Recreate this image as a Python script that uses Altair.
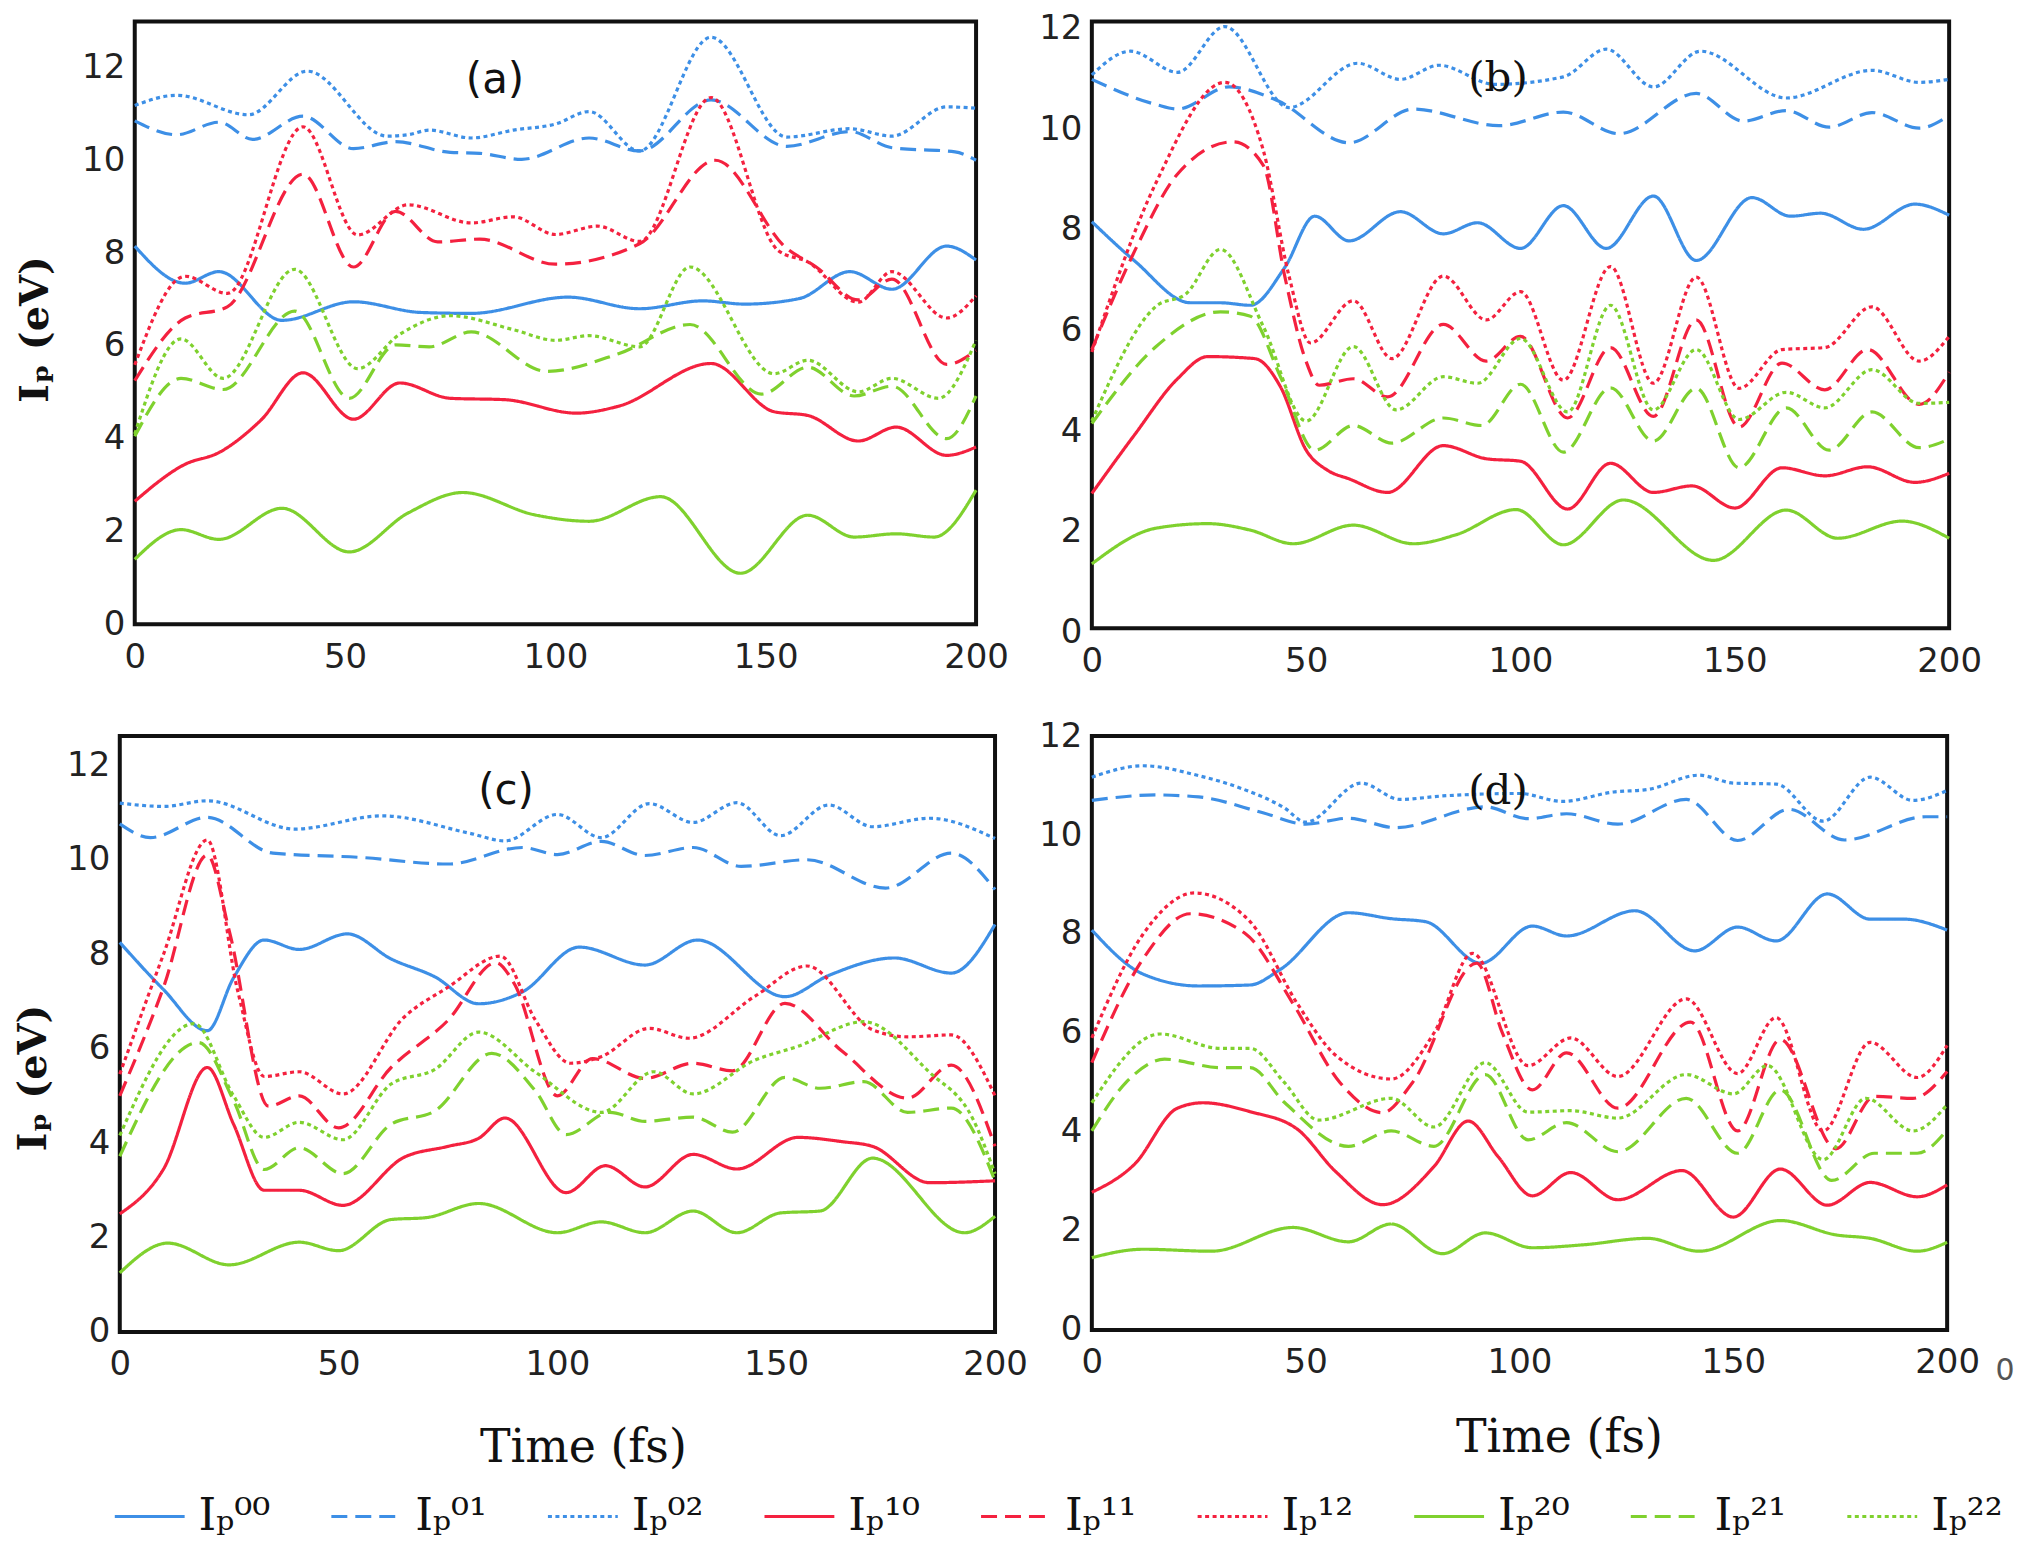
import altair as alt
import pandas as pd

# ---------------- series meta ----------------
LABELS = ["Iₚ⁰⁰", "Iₚ⁰¹", "Iₚ⁰²", "Iₚ¹⁰", "Iₚ¹¹", "Iₚ¹²", "Iₚ²⁰", "Iₚ²¹", "Iₚ²²"]
COLORS = ["#3d8fe6", "#3d8fe6", "#3d8fe6",
          "#f4213f", "#f4213f", "#f4213f",
          "#7fd12e", "#7fd12e", "#7fd12e"]
DASHES = [[1, 0], [16, 8], [4, 3.5]] * 3
WIDTHS = [3.2, 3.2, 3.2, 4.0, 4.0, 4.0, 3.0, 3.0, 3.0]
X_TICKS = [0, 50, 100, 150, 200]
Y_TICKS = [0, 2, 4, 6, 8, 10, 12]

# ---------------- panel (a) ----------------
a_00 = [(0, 8.15), (12, 7.35), (20, 7.6), (35, 6.55), (52, 6.95), (68, 6.72), (80, 6.7), (103, 7.05), (120, 6.8), (135, 6.97), (145, 6.9), (158, 7.02), (170, 7.6), (180, 7.22), (193, 8.15), (200, 7.85)]
a_01 = [(0, 10.85), (10, 10.55), (20, 10.82), (28, 10.45), (40, 10.95), (52, 10.25), (62, 10.4), (75, 10.17), (82, 10.15), (92, 10.02), (108, 10.48), (120, 10.2), (137, 11.3), (155, 10.3), (170, 10.62), (180, 10.27), (195, 10.18), (200, 10.0)]
a_02 = [(0, 11.18), (10, 11.4), (27, 10.98), (41, 11.92), (60, 10.52), (65, 10.55), (70, 10.65), (80, 10.48), (90, 10.65), (100, 10.78), (108, 11.05), (120, 10.2), (137, 12.65), (155, 10.5), (170, 10.68), (180, 10.52), (193, 11.15), (200, 11.12)]
a_10 = [(0, 2.65), (12, 3.45), (20, 3.7), (30, 4.4), (40, 5.42), (52, 4.42), (63, 5.2), (75, 4.87), (88, 4.84), (105, 4.55), (115, 4.7), (137, 5.62), (152, 4.58), (160, 4.5), (172, 3.95), (181, 4.25), (193, 3.64), (200, 3.82)]
a_11 = [(0, 5.25), (12, 6.6), (22, 6.84), (40, 9.7), (52, 7.7), (62, 8.9), (72, 8.24), (82, 8.3), (100, 7.76), (120, 8.2), (138, 10.0), (155, 8.1), (162, 7.7), (172, 6.99), (180, 7.44), (193, 5.6), (200, 5.9)]
a_12 = [(0, 5.59), (12, 7.5), (22, 7.13), (40, 10.72), (53, 8.39), (65, 9.04), (80, 8.65), (90, 8.78), (100, 8.4), (110, 8.58), (120, 8.25), (137, 11.35), (153, 8.05), (160, 7.81), (172, 6.94), (180, 7.6), (193, 6.6), (200, 7.08)]
a_20 = [(0, 1.4), (11, 2.04), (20, 1.83), (35, 2.5), (51, 1.56), (65, 2.4), (78, 2.84), (95, 2.36), (108, 2.22), (125, 2.75), (144, 1.1), (160, 2.35), (171, 1.88), (181, 1.95), (190, 1.88), (200, 2.89)]
a_21 = [(0, 4.05), (11, 5.3), (21, 5.06), (38, 6.75), (51, 4.87), (62, 6.02), (70, 5.98), (80, 6.3), (98, 5.45), (115, 5.83), (132, 6.46), (149, 4.96), (160, 5.54), (171, 4.92), (180, 5.13), (193, 4.0), (200, 4.92)]
a_22 = [(0, 4.1), (11, 6.15), (21, 5.3), (38, 7.65), (53, 5.51), (63, 6.25), (75, 6.65), (90, 6.35), (100, 6.12), (108, 6.22), (120, 5.98), (132, 7.7), (152, 5.4), (160, 5.69), (172, 5.01), (180, 5.3), (191, 4.87), (200, 6.12)]

# ---------------- panel (b) ----------------
b_00 = [(0, 8.08), (10, 7.3), (23, 6.47), (30, 6.47), (37, 6.42), (45, 7.17), (52, 8.19), (60, 7.7), (72, 8.28), (82, 7.84), (90, 8.06), (100, 7.55), (110, 8.4), (120, 7.55), (131, 8.59), (141, 7.31), (154, 8.56), (163, 8.19), (170, 8.25), (180, 7.93), (192, 8.43), (200, 8.21)]
b_01 = [(0, 10.91), (15, 10.41), (20, 10.32), (32, 10.76), (43, 10.5), (60, 9.65), (75, 10.32), (95, 9.99), (110, 10.26), (123, 9.83), (141, 10.63), (152, 10.08), (162, 10.29), (172, 9.96), (182, 10.25), (193, 9.94), (200, 10.19)]
b_02 = [(0, 11.0), (9, 11.47), (20, 11.05), (31, 11.96), (46, 10.35), (62, 11.23), (72, 10.91), (81, 11.19), (94, 10.81), (110, 10.96), (120, 11.51), (131, 10.76), (142, 11.47), (162, 10.54), (182, 11.09), (193, 10.85), (200, 10.91)]
b_10 = [(0, 2.68), (10, 3.85), (20, 4.96), (27, 5.4), (38, 5.36), (44, 4.8), (50, 3.54), (55, 3.14), (60, 2.97), (69, 2.7), (82, 3.63), (92, 3.37), (100, 3.32), (111, 2.37), (121, 3.28), (131, 2.7), (140, 2.83), (150, 2.39), (161, 3.19), (171, 3.03), (181, 3.21), (192, 2.9), (200, 3.08)]
b_11 = [(0, 5.54), (10, 7.5), (20, 9.03), (33, 9.67), (40, 9.2), (45, 7.0), (50, 5.3), (53, 4.83), (61, 4.96), (69, 4.6), (82, 6.04), (92, 5.31), (100, 5.8), (111, 4.18), (121, 5.58), (131, 4.21), (141, 6.13), (151, 4.0), (161, 5.27), (171, 4.74), (181, 5.54), (193, 4.45), (200, 5.09)]
b_12 = [(0, 5.49), (15, 8.86), (31, 10.85), (40, 9.5), (46, 7.0), (51, 5.67), (61, 6.51), (70, 5.36), (82, 7.0), (92, 6.13), (100, 6.69), (110, 4.93), (121, 7.19), (131, 4.87), (141, 6.98), (151, 4.77), (161, 5.54), (171, 5.58), (182, 6.39), (193, 5.31), (200, 5.8)]
b_20 = [(0, 1.28), (15, 1.99), (27, 2.08), (37, 1.95), (47, 1.68), (61, 2.05), (75, 1.68), (85, 1.86), (99, 2.36), (110, 1.66), (124, 2.55), (145, 1.35), (162, 2.35), (174, 1.79), (189, 2.13), (200, 1.79)]
b_21 = [(0, 4.07), (15, 5.6), (30, 6.29), (37, 6.2), (44, 5.0), (52, 3.54), (61, 4.03), (70, 3.68), (82, 4.18), (91, 4.03), (100, 4.85), (110, 3.5), (121, 4.78), (131, 3.72), (141, 4.77), (151, 3.19), (162, 4.38), (172, 3.54), (182, 4.3), (193, 3.59), (200, 3.76)]
b_22 = [(0, 4.12), (15, 6.4), (22, 6.65), (30, 7.53), (40, 6.0), (50, 4.12), (61, 5.6), (71, 4.34), (82, 5.0), (90, 4.87), (100, 5.76), (111, 4.3), (121, 6.42), (131, 4.34), (141, 5.54), (151, 4.15), (162, 4.69), (171, 4.38), (182, 5.14), (193, 4.47), (200, 4.49)]

# ---------------- panel (c) ----------------
c_00 = [(0, 8.25), (10, 7.25), (20, 6.38), (26, 7.5), (33, 8.3), (41, 8.1), (52, 8.43), (62, 7.9), (72, 7.52), (82, 6.95), (92, 7.2), (105, 8.15), (120, 7.77), (132, 8.3), (152, 7.1), (162, 7.55), (177, 7.92), (190, 7.6), (200, 8.63)]
c_01 = [(0, 10.76), (7, 10.47), (20, 10.9), (35, 10.14), (55, 10.05), (75, 9.91), (92, 10.26), (100, 10.11), (110, 10.39), (120, 10.09), (131, 10.26), (142, 9.86), (157, 10.0), (175, 9.4), (190, 10.14), (200, 9.37)]
c_02 = [(0, 11.2), (10, 11.13), (20, 11.25), (40, 10.65), (60, 10.93), (80, 10.56), (88, 10.4), (100, 10.96), (110, 10.47), (121, 11.19), (131, 10.79), (141, 11.21), (151, 10.51), (162, 11.16), (172, 10.7), (185, 10.88), (200, 10.45)]
c_10 = [(0, 2.5), (10, 3.45), (20, 5.6), (26, 4.4), (33, 3.0), (41, 3.0), (51, 2.68), (65, 3.7), (75, 3.93), (82, 4.1), (88, 4.53), (102, 2.95), (111, 3.52), (120, 3.07), (131, 3.76), (141, 3.45), (155, 4.12), (165, 4.03), (172, 3.93), (185, 3.16), (200, 3.2)]
c_11 = [(0, 5.0), (10, 7.3), (20, 10.1), (25, 8.5), (34, 4.78), (41, 5.0), (50, 4.32), (62, 5.6), (75, 6.6), (86, 7.82), (90, 7.4), (100, 5.0), (108, 5.79), (120, 5.37), (131, 5.69), (140, 5.53), (152, 6.96), (165, 5.95), (180, 4.95), (190, 5.65), (200, 3.93)]
c_12 = [(0, 5.46), (10, 8.0), (20, 10.42), (27, 7.2), (33, 5.41), (41, 5.51), (51, 5.04), (65, 6.67), (75, 7.3), (87, 7.96), (95, 6.6), (103, 5.69), (110, 5.83), (121, 6.43), (130, 6.22), (145, 7.1), (157, 7.75), (172, 6.4), (180, 6.25), (190, 6.29), (200, 5.0)]
c_20 = [(0, 1.25), (11, 1.88), (25, 1.42), (41, 1.9), (50, 1.72), (62, 2.38), (70, 2.42), (82, 2.72), (100, 2.1), (110, 2.33), (120, 2.1), (131, 2.56), (141, 2.1), (151, 2.52), (160, 2.56), (172, 3.68), (193, 2.1), (200, 2.45)]
c_21 = [(0, 3.72), (18, 6.13), (26, 4.9), (33, 3.44), (41, 3.9), (51, 3.35), (62, 4.4), (72, 4.68), (85, 5.9), (95, 5.1), (102, 4.18), (112, 4.65), (120, 4.46), (131, 4.55), (140, 4.23), (152, 5.39), (160, 5.16), (170, 5.3), (180, 4.65), (190, 4.74), (200, 3.2)]
c_22 = [(0, 4.16), (17, 6.53), (26, 5.0), (33, 4.12), (41, 4.44), (51, 4.07), (62, 5.25), (72, 5.56), (82, 6.35), (95, 5.5), (110, 4.65), (122, 5.51), (131, 5.04), (145, 5.75), (155, 6.05), (170, 6.57), (185, 5.5), (195, 4.5), (200, 3.35)]

# ---------------- panel (d) ----------------
d_00 = [(0, 8.08), (12, 7.19), (25, 6.95), (37, 6.97), (44, 7.28), (60, 8.43), (70, 8.31), (78, 8.25), (91, 7.41), (103, 8.16), (111, 7.96), (127, 8.47), (141, 7.66), (151, 8.14), (160, 7.86), (172, 8.81), (182, 8.3), (190, 8.3), (200, 8.08)]
d_01 = [(0, 10.7), (15, 10.81), (25, 10.77), (40, 10.45), (50, 10.22), (60, 10.34), (71, 10.15), (92, 10.57), (102, 10.33), (111, 10.43), (123, 10.22), (139, 10.72), (151, 9.89), (163, 10.52), (176, 9.9), (195, 10.37), (200, 10.37)]
d_02 = [(0, 11.17), (12, 11.4), (25, 11.2), (35, 10.94), (45, 10.55), (50, 10.26), (63, 11.05), (72, 10.72), (82, 10.79), (100, 10.84), (110, 10.68), (122, 10.87), (130, 10.92), (142, 11.21), (150, 11.05), (160, 11.03), (171, 10.28), (182, 11.17), (192, 10.7), (200, 10.9)]
d_10 = [(0, 2.78), (10, 3.35), (20, 4.48), (26, 4.59), (37, 4.41), (48, 4.06), (57, 3.2), (68, 2.53), (80, 3.3), (88, 4.22), (95, 3.5), (103, 2.71), (112, 3.18), (123, 2.63), (138, 3.22), (150, 2.28), (161, 3.25), (172, 2.52), (182, 2.98), (193, 2.69), (200, 2.93)]
d_11 = [(0, 5.4), (12, 7.5), (23, 8.41), (36, 8.0), (47, 6.6), (58, 5.0), (68, 4.39), (75, 5.0), (90, 7.41), (96, 6.0), (103, 4.85), (111, 5.6), (123, 4.48), (140, 6.22), (151, 4.02), (161, 5.87), (174, 3.66), (183, 4.72), (192, 4.68), (200, 5.22)]
d_12 = [(0, 5.9), (12, 8.0), (24, 8.83), (37, 8.25), (48, 6.6), (57, 5.55), (70, 5.07), (80, 6.0), (89, 7.61), (102, 5.34), (112, 5.9), (123, 5.12), (139, 6.69), (151, 5.18), (160, 6.31), (171, 4.02), (182, 5.81), (193, 5.1), (200, 5.75)]
d_20 = [(0, 1.46), (12, 1.63), (28, 1.59), (47, 2.07), (60, 1.78), (70, 2.14), (82, 1.54), (92, 1.96), (103, 1.66), (115, 1.72), (130, 1.85), (142, 1.59), (161, 2.21), (174, 1.92), (182, 1.85), (193, 1.59), (200, 1.77)]
d_21 = [(0, 4.02), (8, 5.0), (17, 5.47), (30, 5.3), (37, 5.3), (45, 4.6), (60, 3.71), (70, 4.02), (80, 3.71), (92, 5.16), (102, 3.84), (111, 4.19), (123, 3.6), (139, 4.68), (151, 3.57), (161, 4.85), (173, 3.02), (183, 3.57), (193, 3.57), (200, 4.04)]
d_22 = [(0, 4.59), (16, 5.98), (30, 5.69), (37, 5.69), (45, 5.0), (53, 4.24), (70, 4.68), (80, 4.1), (92, 5.4), (102, 4.4), (112, 4.43), (123, 4.28), (139, 5.16), (150, 4.77), (158, 5.34), (171, 3.44), (181, 4.68), (192, 4.02), (200, 4.55)]

PANEL_A = [a_00, a_01, a_02, a_10, a_11, a_12, a_20, a_21, a_22]
PANEL_B = [b_00, b_01, b_02, b_10, b_11, b_12, b_20, b_21, b_22]
PANEL_C = [c_00, c_01, c_02, c_10, c_11, c_12, c_20, c_21, c_22]
PANEL_D = [d_00, d_01, d_02, d_10, d_11, d_12, d_20, d_21, d_22]


def to_frame(series_list):
    rows = []
    for lab, pts in zip(LABELS, series_list):
        for t, v in pts:
            rows.append({"t": t, "v": v, "s": lab})
    return pd.DataFrame(rows)


LEGEND = alt.Legend(
    title=None, orient="none", legendX=-7, legendY=1461,
    direction="horizontal", columns=9, symbolType="stroke",
    symbolSize=4900, symbolStrokeWidth=4, labelFont="DejaVu Serif",
    labelFontSize=45, labelColor="#111", labelOffset=12,
    columnPadding=54, labelLimit=0,
)

LABEL_FONT = "DejaVu Sans"


def panel(series_list, w, h, ymax, tag, tag_font, tag_x, tag_y,
          ytitle=None, ytitle_pad=0, ytitle_y=None,
          xtitle=None, xtitle_x=None, xtitle_y=None, extra=None,
          ylabel_top=False):
    df = to_frame(series_list)
    xaxis_kw = dict(values=X_TICKS, labelFont=LABEL_FONT, labelFontSize=34,
                    labelColor="#222", labelPadding=16, ticks=False, domain=False,
                    grid=False, labelFlush=False, labelOverlap=False)
    if xtitle:
        xaxis_kw.update(title=xtitle, titleFont="DejaVu Serif", titleFontSize=46,
                        titleFontWeight="normal", titleColor="#111",
                        titleX=xtitle_x, titleY=xtitle_y, titleBaseline="middle",
                        titleAlign="center")
    else:
        xaxis_kw.update(title=None)
    yaxis_kw = dict(values=Y_TICKS, labelFont=LABEL_FONT, labelFontSize=34,
                    labelColor="#222", labelPadding=10, ticks=False, domain=False,
                    grid=False, labelFlush=False, labelOverlap=False)
    if ylabel_top:
        yaxis_kw.update(labelBaseline="top", labelOffset=-13)
    if ytitle:
        yaxis_kw.update(title=ytitle, titleFont="DejaVu Serif", titleFontSize=40,
                        titleFontWeight="bold", titleColor="#111",
                        titlePadding=ytitle_pad, titleY=ytitle_y)
    else:
        yaxis_kw.update(title=None)

    lines = alt.Chart(df).mark_line(interpolate="monotone").encode(
        x=alt.X("t:Q", scale=alt.Scale(domain=[0, 200], nice=False, zero=False),
                axis=alt.Axis(**xaxis_kw)),
        y=alt.Y("v:Q", scale=alt.Scale(domain=[0, ymax], nice=False, zero=True),
                axis=alt.Axis(**yaxis_kw)),
        color=alt.Color("s:N", scale=alt.Scale(domain=LABELS, range=COLORS), legend=LEGEND),
        strokeDash=alt.StrokeDash("s:N", scale=alt.Scale(domain=LABELS, range=DASHES), legend=LEGEND),
        strokeWidth=alt.StrokeWidth("s:N", scale=alt.Scale(domain=LABELS, range=WIDTHS), legend=None),
        order="t:Q",
    )
    tag_df = pd.DataFrame({"txt": [tag]})
    tag_mark = alt.Chart(tag_df).mark_text(
        font=tag_font, fontSize=42, color="#111", align="center", baseline="middle"
    ).encode(x=alt.value(tag_x), y=alt.value(tag_y), text="txt:N")
    layers = [lines, tag_mark]
    if extra is not None:
        ex_df = pd.DataFrame({"txt": [extra[0]]})
        layers.append(alt.Chart(ex_df).mark_text(
            font=LABEL_FONT, fontSize=30, color="#555", align="center", baseline="middle"
        ).encode(x=alt.value(extra[1]), y=alt.value(extra[2]), text="txt:N"))
    return alt.layer(*layers).properties(width=w, height=h)


pa = panel(PANEL_A, 843, 604, 12.99, "(a)", "DejaVu Sans", 361, 59,
           ytitle="Iₚ (eV)", ytitle_pad=26, ytitle_y=308)
pb = panel(PANEL_B, 859, 608, 12.06, "(b)", "DejaVu Serif", 407, 57,
           ylabel_top=True)
pc = panel(PANEL_C, 877, 597, 12.62, "(c)", "DejaVu Sans", 387, 55,
           ytitle="Iₚ (eV)", ytitle_pad=13, ytitle_y=342,
           xtitle="Time (fs)", xtitle_x=464, xtitle_y=116)
pd_ = panel(PANEL_D, 857, 595, 12.0, "(d)", "DejaVu Serif", 407, 55,
            xtitle="Time (fs)", xtitle_x=468, xtitle_y=108,
            extra=("0", 915, 636))


def spacer(w):
    # invisible layout spacer (no visible marks)
    return alt.Chart(pd.DataFrame({"z": [0]})).mark_point(opacity=0).encode(
        x=alt.value(0), y=alt.value(0)
    ).properties(width=w, height=1,
                 view=alt.ViewBackground(strokeWidth=0, strokeOpacity=0))


# panel (a) sits 15px right of panel (c); panel (b) starts 959px after (a)
row1 = alt.hconcat(spacer(1), pa, spacer(88), pb, spacing=14, bounds="flush")
row2 = alt.hconcat(pc, pd_, spacing=97, bounds="flush")

chart = alt.vconcat(row1, row2, spacing=37).properties(
    padding={"left": 3, "top": 0, "right": 0, "bottom": 0},
    background="white",
).configure_view(stroke="#111", strokeWidth=4)

chart.save("out.html", embed_options={"renderer": "svg", "actions": False})
